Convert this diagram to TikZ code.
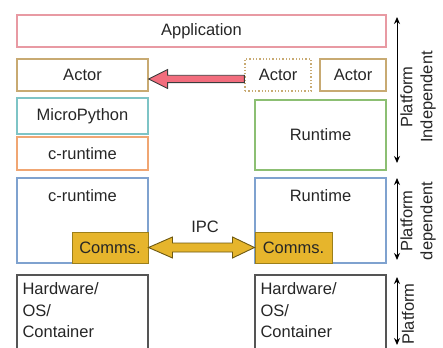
\documentclass[tikz,border=0pt]{standalone}
\usepackage{fontspec}
\setmainfont{Liberation Sans}
\usetikzlibrary{arrows.meta,calc}

\definecolor{txtc}{HTML}{262626}
\definecolor{appc}{HTML}{E89AA3}
\definecolor{actc}{HTML}{C8AA72}
\definecolor{mpyc}{HTML}{7EC4C6}
\definecolor{orgc}{HTML}{F0A673}
\definecolor{grnc}{HTML}{8CBF73}
\definecolor{bluc}{HTML}{7FA2CF}
\definecolor{goldf}{HTML}{E6B52C}
\definecolor{goldd}{HTML}{9C7F1A}
\definecolor{hwc}{HTML}{555555}
\definecolor{redf}{HTML}{F26D7D}

\tikzset{
  box/.style={draw, line width=1.3pt, inner sep=0pt, text=txtc,
    font=\fontsize{16.5}{19}\selectfont},
  txt/.style={inner sep=0pt, text=txtc, font=\fontsize{16.5}{19}\selectfont},
  comms/.style={box, fill=goldf, draw=goldd, line width=1pt},
  bigarrow/.style={line width=0.9pt, line join=miter},
  side/.style={line width=1pt, {Stealth[length=7pt,width=6pt]}-{Stealth[length=7pt,width=6pt]}},
  sidelbl/.style={txt, rotate=90, align=center, font=\fontsize{16.5}{20}\selectfont}
}

\begin{document}
\begin{tikzpicture}[x=1pt,y=-1pt]
\clip (0,0) rectangle (443,347);
\useasboundingbox (0,0) rectangle (443,347);

% platform-independent layers
\node[box, draw=appc, minimum width=369, minimum height=32] (app) at (201.5,31) {Application};
\node[box, draw=actc, minimum width=131, minimum height=32] (actL) at (82.5,75) {Actor};
\node[box, draw=actc, dotted, minimum width=66, minimum height=32] (actD) at (278,75) {Actor};
\node[box, draw=actc, minimum width=66, minimum height=32] (actR) at (353,75) {Actor};
\node[box, draw=mpyc, minimum width=131, minimum height=36] (mpy) at (82.5,116) {MicroPython};
\node[box, draw=orgc, minimum width=131, minimum height=33] (crtO) at (82.5,153.5) {c-runtime};
\node[box, draw=grnc, minimum width=131, minimum height=70] (rtG) at (320.5,135) {Runtime};

% platform-dependent layers
\node[box, draw=bluc, minimum width=131, minimum height=85] (crtB) at (82.5,220.5) {};
\node[txt] (crtBt) at ([yshift=-18pt]crtB.north) {c-runtime};
\node[box, draw=bluc, minimum width=131, minimum height=85] (rtB) at (320.5,220.5) {};
\node[txt] (rtBt) at ([yshift=-18pt]rtB.north) {Runtime};
\node[comms, minimum width=76, minimum height=31] (comL) at (110,247.5) {Comms.};
\node[comms, minimum width=77, minimum height=31] (comR) at (293.5,247.5) {Comms.};

% platform layer
\node[box, draw=hwc, minimum width=131, minimum height=80] (hwL) at (82.5,315) {};
\node[box, draw=hwc, minimum width=131, minimum height=80] (hwR) at (320.5,315) {};
\node[txt, anchor=north west, align=left, font=\fontsize{16.5}{21.5}\selectfont]
  (hwLt) at ([xshift=6pt,yshift=-8pt]hwL.north west) {Hardware/\\OS/\\Container};
\node[txt, anchor=north west, align=left, font=\fontsize{16.5}{21.5}\selectfont]
  (hwRt) at ([xshift=6pt,yshift=-8pt]hwR.north west) {Hardware/\\OS/\\Container};

% actor migration arrow
\coordinate (rtip) at ([yshift=-4pt]actL.east);
\coordinate (rtail) at ([yshift=-4pt]actD.west);
\draw[bigarrow, draw=txtc!90, fill=redf]
  (rtip) -- ++(19,-9.5) -- ++(0,5.8) -- ($(rtail)+(0,-3.7)$) -- ($(rtail)+(0,3.7)$)
  -- ($(rtip)+(19,3.7)$) -- ($(rtip)+(19,9.5)$) -- cycle;

% IPC double arrow
\coordinate (ltip) at (comL.east);
\coordinate (rtip2) at (comR.west);
\draw[bigarrow, draw=goldd!70!black, fill=goldf]
  (ltip) -- ($(ltip)+(24,-10.5)$) -- ($(ltip)+(24,-4.5)$) -- ($(rtip2)+(-22,-4.5)$)
  -- ($(rtip2)+(-22,-10.5)$) -- (rtip2) -- ($(rtip2)+(-22,10.5)$) -- ($(rtip2)+(-22,4.5)$)
  -- ($(ltip)+(24,4.5)$) -- ($(ltip)+(24,10.5)$) -- cycle;
\node[txt] (ipc) at (205,227) {IPC};

% side brackets
\coordinate (i1) at (397,17);  \coordinate (i2) at (397,163);
\coordinate (d1) at (397,178); \coordinate (d2) at (397,260);
\coordinate (p1) at (397,277); \coordinate (p2) at (397,345);
\draw[side] (i1) -- (i2);
\draw[side] (d1) -- (d2);
\draw[side] (p1) -- (p2);
\node[sidelbl] (indep) at (418,97) {Platform\\Independent};
\node[sidelbl] (dep) at (418,221) {Platform\\dependent};
\node[sidelbl] (plat) at (408,314) {Platform};
\end{tikzpicture}
\end{document}
